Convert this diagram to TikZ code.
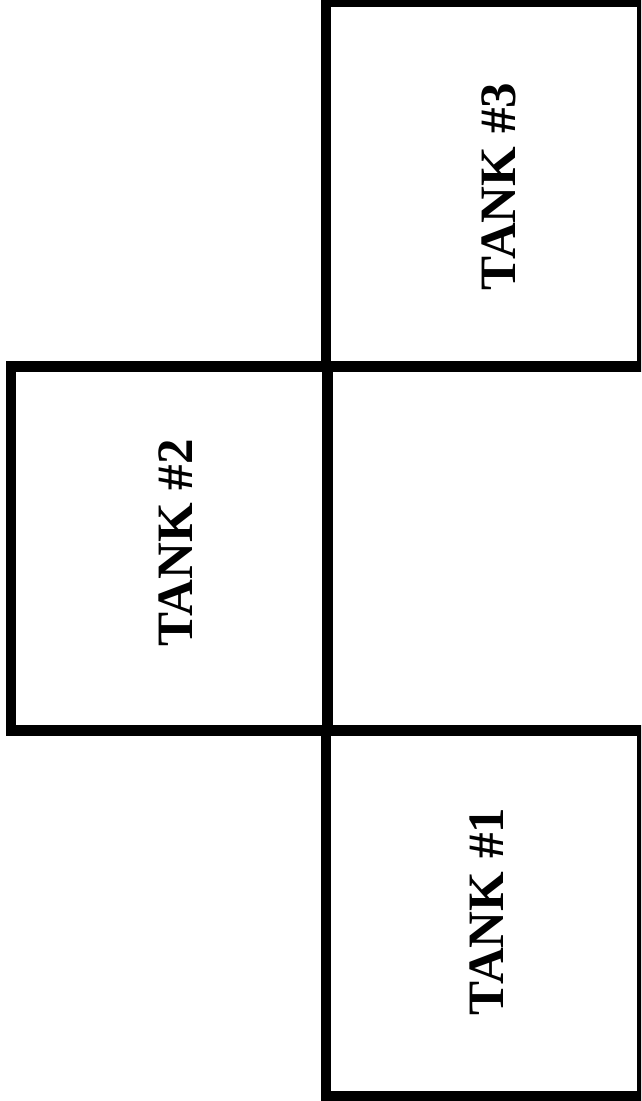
\documentclass[tikz,border=0pt]{standalone}
\usepackage{fontspec}
\setmainfont{Liberation Serif}
\begin{document}
\begin{tikzpicture}[x=1pt,y=-1pt,
  tank/.style={draw=black,line width=10.5pt,inner sep=0pt,outer sep=0pt,fill=none},
  lbl/.style={rotate=90,anchor=base,inner sep=0pt,font=\fontsize{51}{60}\selectfont\bfseries}]
\useasboundingbox (0,0) rectangle (641,1101);
\clip (0,0) rectangle (641,1101);
\fill[white] (0,0) rectangle (641,1101);
\node[tank,minimum width=316pt,minimum height=364.5pt] (t3) at (484,184.25) {};
\node[tank,minimum width=316.5pt,minimum height=364pt] (t2) at (169.25,548.5) {};
\node[tank,minimum width=316pt,minimum height=365.5pt] (t1) at (484,913.25) {};
\node[lbl] (l3) at (515,186.5) {TANK \#3};
\node[lbl] (l2) at (192,543) {TANK \#2};
\node[lbl] (l1) at (503,911.5) {TANK \#1};
\end{tikzpicture}
\end{document}
